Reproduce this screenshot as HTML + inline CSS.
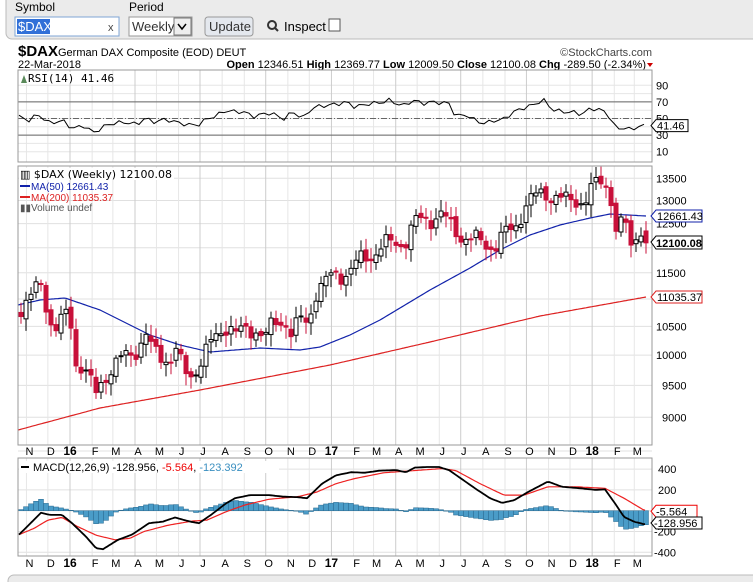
<!DOCTYPE html>
<html><head><meta charset="utf-8">
<style>
body{margin:0;background:#fff;width:753px;height:582px;overflow:hidden;font-family:"Liberation Sans",Arial,sans-serif;}
svg{position:absolute;left:0;top:0}
</style></head><body>
<svg id="s" width="753" height="582" xmlns="http://www.w3.org/2000/svg" font-family="Liberation Sans, Arial, sans-serif"></svg>
<script>
const S=document.getElementById('s');let h='';
function add(x){h+=x;}
add('<rect x="0" y="0" width="753" height="42" fill="#fff"/>');
add('<rect x="6" y="-6" width="760" height="45" rx="6" fill="#ebebeb" stroke="#bbb"/>');
add('<text x="15" y="11" font-size="12" fill="#000">Symbol</text><text x="129" y="11" font-size="12">Period</text>');
add('<rect x="15" y="17" width="104" height="19" fill="#fff" stroke="#7fa6d6"/><rect x="17" y="19" width="33" height="15" fill="#3170d8"/><text x="18" y="31" font-size="13" fill="#fff">$DAX</text><text x="108" y="31" font-size="11" fill="#444">x</text>');
add('<rect x="129" y="17" width="63" height="19" fill="#fff" stroke="#999"/><text x="132" y="31" font-size="13" fill="#333">Weekly</text><rect x="174" y="18" width="17" height="17" fill="#eee" stroke="#777"/><path d="M178 24 l4 5 l4 -5" stroke="#000" fill="none" stroke-width="1.5"/>');
add('<rect x="205" y="17" width="48" height="19" rx="3" fill="#e4e8ee" stroke="#999"/><text x="209" y="31" font-size="13" fill="#333">Update</text>');
add('<circle cx="272" cy="25" r="4" stroke="#333" stroke-width="2" fill="none"/><path d="M275 28 l3 3" stroke="#333" stroke-width="2"/><text x="284" y="31" font-size="13">Inspect</text><rect x="329" y="19" width="11" height="12" fill="#fff" stroke="#555"/>');
add('<text x="18" y="56" font-size="15" font-weight="bold">$DAX</text><text x="58" y="56" font-size="11">German DAX Composite (EOD)  DEUT</text>');
add('<text x="652" y="56" font-size="11" fill="#444" text-anchor="end">©StockCharts.com</text>');
add('<text x="18" y="68" font-size="11">22-Mar-2018</text>');
add('<text x="646" y="68" font-size="11" text-anchor="end"><tspan font-weight="bold">Open</tspan> 12346.51 <tspan font-weight="bold">High</tspan> 12369.77 <tspan font-weight="bold">Low</tspan> 12009.50 <tspan font-weight="bold">Close</tspan> 12100.08 <tspan font-weight="bold">Chg</tspan> -289.50 (-2.34%)</text><path d="M647 63 h6 l-3 4z" fill="#c00"/>');
const L=18,R=652;
function interp(a,x){if(x<=a[0][0])return a[0][1];for(let i=1;i<a.length;i++){if(x<=a[i][0]){const t=(x-a[i-1][0])/(a[i][0]-a[i-1][0]);return a[i-1][1]+t*(a[i][1]-a[i-1][1]);}}return a[a.length-1][1];}
function xd(d){return 70+(d-new Date(2016,0,1))/864e5/7*5;}
const mons=[];for(let y=2015;y<=2018;y++)for(let m=0;m<12;m++){const x=xd(new Date(y,m,1));if(x>L&&x<R)mons.push([x,y,m]);}
const ML='JFMAMJJASOND';
function vgrid(t,b){for(const[x,y,m]of mons){add(`<line x1="${x}" y1="${t}" x2="${x}" y2="${b}" stroke="${m%3==0?'#ccc':'#e6e6e6'}"/>`);}}
function mlabels(y){for(const[x,yy,m]of mons){if(m==0)add(`<text x="${x}" y="${y}" font-size="12" font-weight="bold" text-anchor="middle">${String(yy).slice(2)}</text>`);else add(`<text x="${x+3}" y="${y}" font-size="11" text-anchor="middle">${ML[m]}</text>`);}}
const rt=70,rb=162;const ry=v=>118.5-(v-50)*0.83;
add(`<rect x="${L}" y="${rt}" width="${R-L}" height="${rb-rt}" fill="#fff"/>`);
for(let v=10;v<=90;v+=10)add(`<line x1="${L}" x2="${R}" y1="${ry(v)}" y2="${ry(v)}" stroke="#e6e6e6"/>`);
vgrid(rt,rb);
add(`<line x1="${L}" x2="${R}" y1="${ry(70)}" y2="${ry(70)}" stroke="#666"/><line x1="${L}" x2="${R}" y1="${ry(30)}" y2="${ry(30)}" stroke="#666"/><line x1="${L}" x2="${R}" y1="${ry(50)}" y2="${ry(50)}" stroke="#666" stroke-dasharray="6,2,1,2"/>`);
const rsi=[[19,52],[29,48],[38,55],[50,44],[62,48],[72,38],[84,41],[94,33],[103,40],[115,45],[130,45],[137,42],[144,50],[154,46],[166,49],[178,45],[190,42],[200,43],[207,50],[216,53],[226,60],[235,58],[245,58],[252,52],[262,55],[271,57],[283,49],[293,58],[303,50],[312,63],[327,66],[336,67],[346,70],[355,64],[370,68],[380,69],[389,72],[399,67],[403,65],[413,72],[423,68],[432,70],[449,68],[456,52],[466,55],[476,47],[485,44],[495,48],[502,48],[514,58],[524,63],[533,66],[543,73],[552,61],[562,58],[572,58],[581,55],[591,62],[600,61],[608,55],[617,36],[625,40],[632,35],[639,42],[646,40]];
let p='';for(let x=19;x<=646;x+=5){let v=interp(rsi,x)+Math.sin(x*1.7)*2.5;p+=(p?'L':'M')+x+' '+ry(v).toFixed(1);}
add(`<path d="${p}" fill="none" stroke="#000" stroke-width="1"/>`);
add(`<rect x="${L}" y="${rt}" width="${R-L}" height="${rb-rt}" fill="none" stroke="#999"/>`);
for(const v of[90,70,50,30,10])add(`<text x="656" y="${ry(v)+4}" font-size="11">${v}</text>`);
add(`<path d="M651 ${ry(41.46)} l5 -6 h32 v12 h-32z" fill="#fff" stroke="#000"/><text x="657" y="${ry(41.46)+4}" font-size="11">41.46</text>`);
add(`<rect x="20" y="72" width="92" height="12" fill="#fff"/><path d="M21 83 l3 -8 l3 8z" fill="#5a8a5a"/><text x="28" y="82" font-size="11" font-family="DejaVu Sans Mono,monospace">RSI(14) 41.46</text>`);
const pt=166,pb=445;const py=v=>178.3+589.4*(Math.log(13500)-Math.log(v));
for(let v=8500;v<=13500;v+=500)add(`<line x1="${L}" x2="${R}" y1="${py(v)}" y2="${py(v)}" stroke="#e0e0e0"/>`);
vgrid(pt,pb);
const ma200=[[18,430],[100,408],[200,390],[330,365],[430,342],[540,316],[646,297]];
const ma50=[[18,305],[40,300],[65,298],[100,310],[150,335],[180,345],[210,352],[260,348],[300,350],[320,347],[350,335],[380,320],[430,290],[470,268],[500,250],[530,235],[560,225],[590,218],[610,214],[646,216]];
function mline(a,c){let d='';for(let x=18;x<=646;x+=2)d+=(d?'L':'M')+x+' '+interp(a,x).toFixed(1);add(`<path d="${d}" fill="none" stroke="${c}" stroke-width="1.2" stroke-linejoin="round"/>`);}
mline(ma200,'#d22');mline(ma50,'#12a');
const pa=[[20,10830],[30,11000],[38,11200],[43,11300],[48,10700],[55,10450],[62,10600],[70,10700],[75,9900],[85,9800],[95,9300],[100,9500],[110,9800],[120,9900],[130,10000],[140,10200],[145,10400],[152,10050],[160,10000],[170,9950],[177,10100],[183,9700],[190,9650],[200,9900],[210,10150],[220,10400],[228,10600],[235,10350],[245,10400],[255,10500],[265,10300],[275,10550],[285,10650],[292,10350],[300,10600],[308,10550],[315,11150],[325,11300],[335,11450],[350,11550],[365,11800],[380,12000],[395,12100],[405,12150],[415,12500],[425,12600],[440,12700],[450,12450],[460,12300],[470,12150],[485,12100],[495,12050],[505,12250],[515,12450],[525,12900],[535,13050],[545,13200],[555,13100],[565,12950],[575,13050],[585,13000],[593,13250],[600,13450],[605,13400],[610,13300],[613,12700],[617,12200],[622,12500],[627,12450],[632,11900],[636,12350],[641,12400],[646,12100]];
let prev=10750;
for(let x=21;x<=646;x+=5){let c=interp(pa,x)*(1+Math.sin(x*2.3)*0.014+Math.sin(x*0.77)*0.006);if(x==646)c=12100;let o=prev*(1+Math.sin(x*0.9)*0.004);if(x==646)o=12346;
const hi=Math.max(o,c)*(1+0.005+Math.abs(Math.sin(x*1.3))*0.014),lo=Math.min(o,c)*(1-0.005-Math.abs(Math.cos(x*1.1))*0.016);
const up=c>=o;const yt=py(Math.max(o,c)),yb=py(Math.min(o,c));
add(`<line x1="${x}" x2="${x}" y1="${py(hi)}" y2="${py(lo)}" stroke="${up?'#000':'#c8103a'}"/>`);
add(`<rect x="${x-2}" y="${yt}" width="4" height="${Math.max(1,yb-yt)}" fill="${up?'#fff':'#c8103a'}" stroke="${up?'#000':'#c8103a'}" stroke-width="1"/>`);prev=c;}
add(`<rect x="${L}" y="${pt}" width="${R-L}" height="${pb-pt}" fill="none" stroke="#999"/>`);
for(let v=9000;v<=13500;v+=500){if(v==12000||v==11000)continue;add(`<text x="${v>=10000?656:662}" y="${py(v)+4}" font-size="11">${v}</text>`);}
add(`<path d="M651 216 l5 -6 h46 v12 h-46z" fill="#fff" stroke="#12a"/><text x="657" y="220" font-size="11" fill="#000">12661.43</text>`);
add(`<path d="M651 242 l5 -6 h46 v13 h-46z" fill="#fff" stroke="#000"/><text x="656" y="247" font-size="11" font-weight="bold">12100.08</text>`);
add(`<path d="M651 297 l5 -6 h46 v12 h-46z" fill="#fff" stroke="#d22"/><text x="657" y="301" font-size="11">11035.37</text>`);
add(`<rect x="19" y="168" width="155" height="12" fill="#fff"/><text x="20" y="178" font-size="11" font-family="DejaVu Sans,sans-serif">▥ $DAX (Weekly) 12100.08</text>`);
add(`<line x1="20" x2="30" y1="186" y2="186" stroke="#12a" stroke-width="2"/><text x="31" y="190" font-size="10" fill="#12a">MA(50) 12661.43</text>`);
add(`<line x1="20" x2="30" y1="197" y2="197" stroke="#d22" stroke-width="2"/><text x="31" y="201" font-size="10" fill="#d22">MA(200) 11035.37</text>`);
add(`<text x="20" y="211" font-size="10" fill="#555">▮▮Volume undef</text>`);
mlabels(455);
const mt=458,mb=556;const my=v=>510.7-v*0.104;
for(const v of[400,200,0,-200,-400])add(`<line x1="${L}" x2="${R}" y1="${my(v)}" y2="${my(v)}" stroke="#e0e0e0"/>`);
vgrid(mt,mb);
const mb_=[[19,-230],[29,-135],[41,-20],[50,-40],[62,-40],[72,-120],[86,-250],[96,-360],[103,-370],[118,-280],[132,-230],[149,-120],[163,-105],[175,-65],[190,-105],[199,-120],[211,-40],[226,70],[235,120],[250,150],[269,150],[283,135],[298,130],[307,120],[322,260],[336,340],[351,370],[365,365],[379,385],[396,390],[406,370],[415,415],[427,420],[439,420],[449,390],[461,310],[475,215],[490,120],[502,75],[514,100],[528,180],[548,280],[562,230],[581,215],[596,200],[605,205],[615,70],[624,-60],[634,-105],[644,-130]];
const sg=[[19,-230],[34,-170],[48,-90],[62,-65],[77,-150],[96,-235],[115,-280],[130,-265],[144,-200],[168,-140],[192,-100],[207,-90],[226,-10],[245,55],[269,110],[298,135],[317,180],[336,260],[355,310],[384,365],[413,385],[442,405],[456,385],[480,260],[504,150],[524,150],[548,230],[576,230],[605,215],[624,120],[644,5]];
for(let x=21;x<=646;x+=5){const v=interp(mb_,x)-interp(sg,x);const y0=my(0),y1=my(v);add(`<rect x="${x-2.5}" y="${Math.min(y0,y1)}" width="5" height="${Math.max(0.5,Math.abs(y1-y0))}" fill="#4a9cc8" stroke="#2a6a90" stroke-width="0.5"/>`);}
function ml(a,c,w){let d='';for(let x=19;x<=646;x+=2)d+=(d?'L':'M')+x+' '+my(interp(a,x)).toFixed(1);add(`<path d="${d}" fill="none" stroke="${c}" stroke-width="${w}" stroke-linejoin="round"/>`);}
ml(sg,'#e22',1.2);ml(mb_,'#000',1.8);
add(`<rect x="${L}" y="${mt}" width="${R-L}" height="${mb-mt}" fill="none" stroke="#999"/>`);
for(const v of[400,200,-200,-400])add(`<text x="${v>0?658:654}" y="${my(v)+4}" font-size="11">${v}</text>`);
add(`<path d="M651 ${my(-5.564)} l5 -6 h41 v12 h-41z" fill="#fff" stroke="#e00"/><text x="656" y="${my(-5.564)+4}" font-size="11">-5.564</text>`);
add(`<path d="M651 523 l5 -6 h46 v12 h-46z" fill="#fff" stroke="#000"/><text x="654" y="527" font-size="11">-128.956</text>`);
add(`<rect x="19" y="461" width="260" height="12" fill="#fff"/><line x1="21" x2="29" y1="467" y2="467" stroke="#000" stroke-width="2"/><text x="33" y="471" font-size="11">MACD(12,26,9) -128.956, <tspan fill="#e00">-5.564</tspan>, <tspan fill="#3a8fc0">-123.392</tspan></text>`);
mlabels(567);
add(`<rect x="8" y="575" width="760" height="20" rx="6" fill="#ebebeb" stroke="#bbb"/>`);
S.innerHTML=h;
</script>
</body></html>
